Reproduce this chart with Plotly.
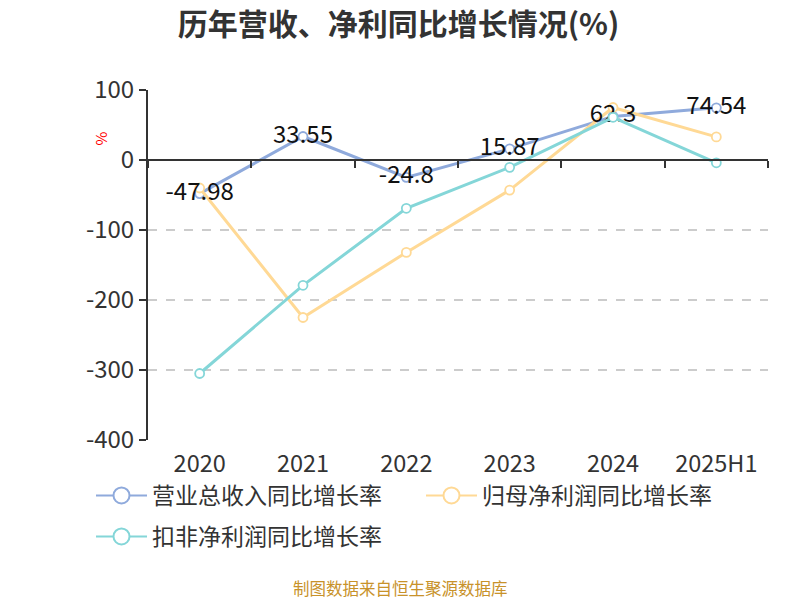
import plotly.graph_objects as go

categories = ["2020", "2021", "2022", "2023", "2024", "2025H1"]
revenue_growth = [-47.98, 33.55, -24.8, 15.87, 62.3, 74.54]
parent_profit_growth = [-40, -225, -132, -43, 75, 33]
deducted_profit_growth = [-305, -179, -69, -10.5, 61, -4]
series_names = ["营业总收入同比增长率", "归母净利润同比增长率", "扣非净利润同比增长率"]
y_ticks = [100, 0, -100, -200, -300, -400]
y_tick_text = ["100", "0", "-100", "-200", "-300", "-400"]

colors = ["#8FAADC", "#FFD995", "#84D6D8"]
font_family = "Noto Sans CJK SC, Noto Sans, sans-serif"

PLOT_H = 350.0
PLOT_W = 620.0

fig = go.Figure()
for name, vals, col, xa in zip(series_names,
                               [revenue_growth, parent_profit_growth, deducted_profit_growth],
                               colors, ["x", "x", "x2"]):
    fig.add_trace(go.Scatter(
        x=categories, y=vals, name=name, mode="lines+markers", xaxis=xa,
        line=dict(color=col, width=3), showlegend=False,
        marker=dict(symbol="circle", size=9, color="white", line=dict(color=col, width=1.8)),
    ))

# legend entries (no data points)
for i, (name, col) in enumerate(zip(series_names, colors)):
    fig.add_trace(go.Scatter(
        x=[None], y=[None], name=name, mode="lines+markers",
        legend="legend" if i < 2 else "legend2",
        line=dict(color=col, width=2),
        marker=dict(symbol="circle", size=18, color="white", line=dict(color=col, width=2)),
    ))

fig.add_trace(go.Scatter(
    x=categories, y=revenue_growth, mode="text", showlegend=False,
    text=[f"{v:g}" for v in revenue_growth], textposition="middle center",
    textfont=dict(size=24, color="#111", family=font_family), hoverinfo="skip",
))

def px_x(sx):  # screenshot x -> paper x
    return (sx - 148) / PLOT_W

def px_y(sy):  # screenshot y -> paper y
    return (440 - sy) / PLOT_H

legend_common = dict(orientation="h", xanchor="left", yanchor="top",
                     font=dict(size=23, color="#333"), entrywidth=264,
                     entrywidthmode="pixels", itemwidth=51, bgcolor="rgba(0,0,0,0)")

fig.update_layout(
    width=800, height=600,
    margin=dict(l=148, r=32, t=90, b=160),
    paper_bgcolor="white", plot_bgcolor="white",
    font=dict(family=font_family, color="#333"),
    title=dict(text="<b>历年营收、净利同比增长情况(%)</b>", x=398.5 / 800, xanchor="center",
               y=1 - 24 / 600, yanchor="middle", font=dict(size=30, color="#333")),
    xaxis=dict(type="category", categoryarray=categories, range=[-0.5, 5.5],
               showline=False, ticks="", showgrid=False, zeroline=False,
               ticklabelstandoff=7, tickfont=dict(size=23.5, color="#333")),
    xaxis2=dict(type="category", categoryarray=categories, range=[-0.5, 5.5],
                overlaying="x", anchor="free", position=0.8, side="bottom",
                showline=True, linecolor="#333", linewidth=2,
                ticks="outside", ticklen=7, tickcolor="#333", tickwidth=2,
                tickson="boundaries", showticklabels=False, showgrid=False, zeroline=False),
    yaxis=dict(range=[-400, 100], tickvals=y_ticks, ticktext=y_tick_text,
               showline=True, linecolor="#333",
               linewidth=2, ticks="outside", ticklen=7, tickcolor="#333", tickwidth=2,
               showgrid=True, gridcolor="#cccccc", griddash="dash", gridwidth=1.5,
               zeroline=False, tickfont=dict(size=24, color="#333")),
    legend=dict(x=px_x(91), y=px_y(474), **legend_common),
    legend2=dict(x=px_x(91), y=px_y(515), **legend_common),
    annotations=[
        dict(text="%", x=px_x(87), y=px_y(130), xref="paper", yref="paper", showarrow=False,
             textangle=-90, font=dict(size=15, color="red")),
        dict(text="制图数据来自恒生聚源数据库", x=px_x(400), xref="paper", xanchor="center",
             y=px_y(588), yref="paper", yanchor="middle", showarrow=False,
             font=dict(size=16.5, color="#C8922A")),
    ],
)

fig.write_html("out.html", config={"displayModeBar": False},
               post_script="document.body.style.margin='0';document.body.style.overflow='hidden';")
